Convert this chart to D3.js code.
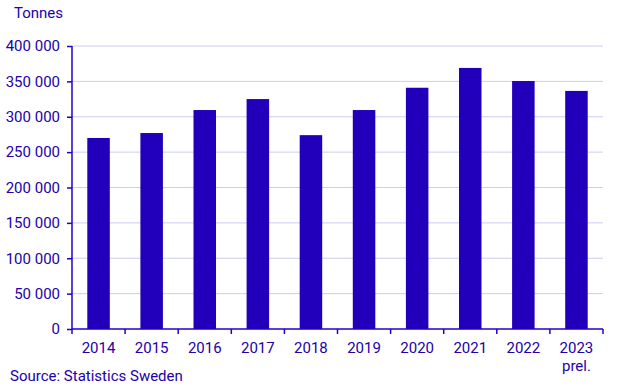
<!DOCTYPE html>
<html>
<head>
<meta charset="utf-8">
<script src="https://cdn.jsdelivr.net/npm/d3@7"></script>
<style>
  body { margin: 0; background: #fff; }
  svg { font-family: Roboto, sans-serif; }
</style>
</head>
<body>
<svg width="643" height="386"></svg>
<script>
const years = ['2014', '2015', '2016', '2017', '2018', '2019', '2020', '2021', '2022', '2023'];
const yearLabels = ['2014', '2015', '2016', '2017', '2018', '2019', '2020', '2021', '2022', '2023 prel.'];
const tonnes = [270000, 277000, 309500, 325000, 274000, 309500, 341000, 369000, 350500, 336500];
const yTicks = [0, 50000, 100000, 150000, 200000, 250000, 300000, 350000, 400000];

const textColor = '#2200aa';
const barColor = '#2200bb';
const axisColor = '#2200cc';
const gridColor = '#cfcbf3';
const fontSize = '15px';

const plotLeft = 72, plotRight = 603, plotTop = 46, plotBottom = 329;

const svg = d3.select('svg');

const x = d3.scaleBand().domain(years).range([plotLeft, plotRight]).paddingInner(0.576).paddingOuter(0.288);
const y = d3.scaleLinear().domain([0, 400000]).range([plotBottom, plotTop]);

function fmt(v){
  return d3.format(',')(v).replace(/,/g, ' ');
}

// grid
svg.append('g')
   .selectAll('line')
   .data(yTicks.filter(d => d > 0))
   .enter().append('line')
   .attr('x1', plotLeft).attr('x2', plotRight)
   .attr('y1', d => y(d)).attr('y2', d => y(d))
   .attr('stroke', gridColor).attr('stroke-width', 1);

// bars
svg.append('g')
   .selectAll('rect')
   .data(tonnes)
   .enter().append('rect')
   .attr('x', (d, i) => x(years[i]))
   .attr('y', d => y(d))
   .attr('width', x.bandwidth())
   .attr('height', d => plotBottom - y(d))
   .attr('fill', barColor);

// y axis
const yAxis = d3.axisLeft(y).tickValues(yTicks).tickSize(5).tickPadding(7).tickFormat(fmt);
const gy = svg.append('g').attr('transform', 'translate(' + plotLeft + ',0)').call(yAxis);
gy.select('.domain').attr('stroke', axisColor).attr('stroke-width', 1.5).attr('d', 'M0,' + plotTop + 'V' + plotBottom);
gy.selectAll('.tick line').attr('stroke', axisColor).attr('stroke-width', 1.5);
gy.selectAll('.tick text').attr('fill', textColor).style('font-size', fontSize).style('font-family', 'Roboto, sans-serif');

// x axis line + boundary ticks
const step = x.step();
const boundaries = d3.range(years.length + 1).map(i => plotLeft + i * step);
svg.append('line')
   .attr('x1', plotLeft).attr('x2', plotRight).attr('y1', plotBottom).attr('y2', plotBottom)
   .attr('stroke', axisColor).attr('stroke-width', 1.5);
svg.append('g')
   .selectAll('line')
   .data(boundaries)
   .enter().append('line')
   .attr('x1', d => d).attr('x2', d => d)
   .attr('y1', plotBottom).attr('y2', plotBottom + 5)
   .attr('stroke', axisColor).attr('stroke-width', 1.5);

// x labels
const xl = svg.append('g')
   .selectAll('text')
   .data(yearLabels)
   .enter().append('text')
   .attr('x', (d, i) => x(years[i]) + x.bandwidth() / 2)
   .attr('y', plotBottom + 24)
   .attr('text-anchor', 'middle')
   .attr('fill', textColor)
   .style('font-size', fontSize);
xl.each(function(d){
  const parts = d.split(' ');
  const t = d3.select(this);
  parts.forEach((p, j) => {
    t.append('tspan').attr('x', t.attr('x')).attr('dy', j ? 18 : 0).text(p);
  });
});

svg.append('text')
   .attr('x', 14).attr('y', 18)
   .attr('fill', textColor).style('font-size', fontSize)
   .text('Tonnes');

svg.append('text')
   .attr('x', 10).attr('y', 381)
   .attr('fill', textColor).style('font-size', fontSize)
   .text('Source: Statistics Sweden');
</script>
</body>
</html>
